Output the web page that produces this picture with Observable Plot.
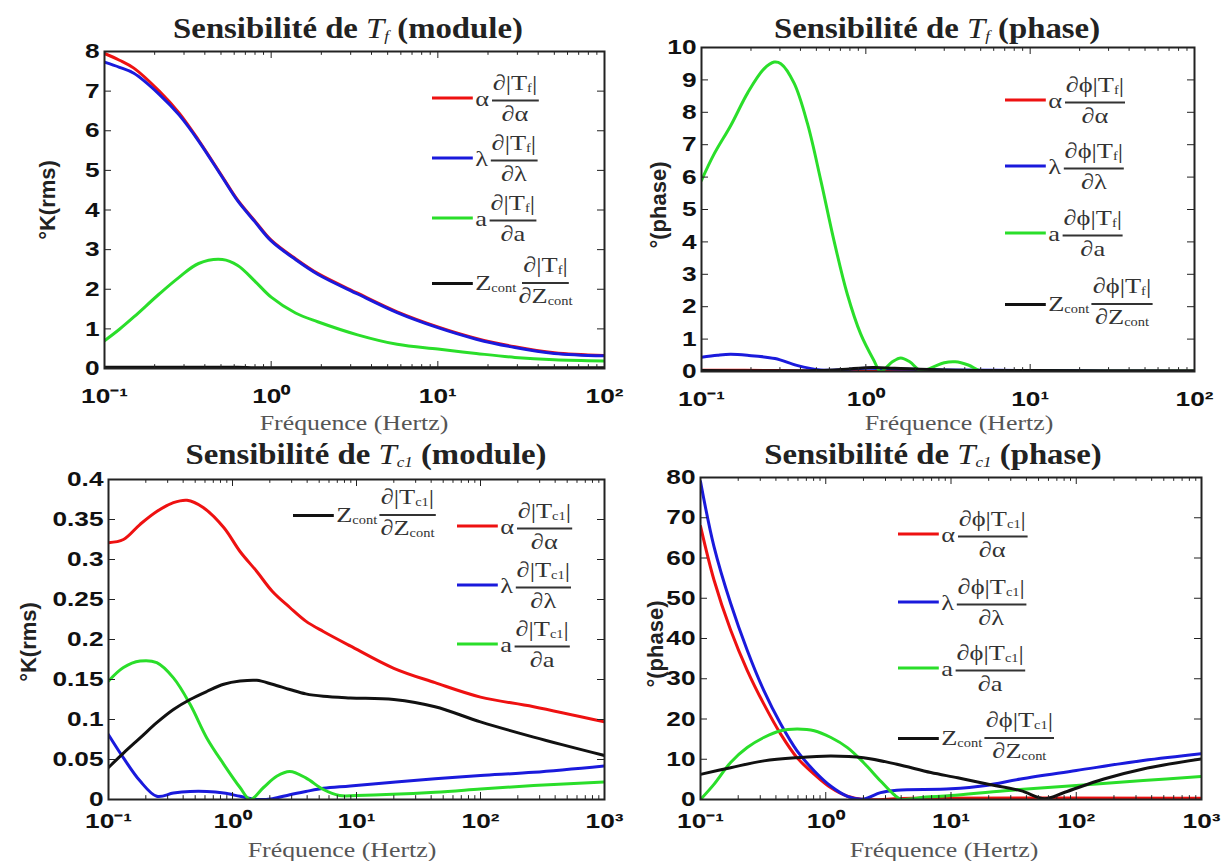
<!DOCTYPE html>
<html><head><meta charset="utf-8">
<script src="https://cdn.jsdelivr.net/npm/d3@7"></script>
<script src="https://cdn.jsdelivr.net/npm/@observablehq/plot@0.6"></script>
<style>
body{margin:0;background:#fff;}
#root{position:relative;width:1229px;height:861px;overflow:hidden;background:#fff;}
.panel{position:absolute;}
.title{position:absolute;transform:translate(-50%,-50%) scaleX(1.13);font:bold 29px "Liberation Serif","Times New Roman",serif;white-space:nowrap;color:#222;}
.title i{font-weight:normal;}
.title sub{font-size:15px;font-style:italic;font-weight:normal;vertical-align:-3px;}
.xlab{position:absolute;transform:translate(-50%,-50%) scaleX(1.23);font:21px "Liberation Serif",serif;color:#555;white-space:nowrap;}
.ylab{position:absolute;transform:translate(-50%,-50%) rotate(-90deg);font:bold 22px "Liberation Sans",Arial,sans-serif;white-space:nowrap;color:#222;}
.leg{position:absolute;display:flex;align-items:center;transform:translateY(-50%) scaleX(1.2);transform-origin:0 50%;font-family:"Liberation Serif",serif;color:#333;white-space:nowrap;}
.leg .ln{width:34px;height:3px;margin-right:2px;}
.leg .pre{font-size:22px;margin-right:2px;}
.frac{display:inline-flex;flex-direction:column;align-items:center;font-size:22px;line-height:24px;}
.frac .num{border-bottom:2px solid #333;padding:0 1px;}
.leg sub{font-size:12px;vertical-align:-2px}
</style></head>
<body><div id="root"></div>
<script>
// ---------- DATA ----------
const seriesColors = {alpha:"#ee1111", lambda:"#1a1adc", a:"#2ade2a", z:"#111111"};

// Panel 1 : Sensibilité de Tf (module)
const p1Freq  = [0.1,0.123,0.15,0.213,0.28,0.367,0.51,0.63,0.8,1,1.4,1.9,3.3,5.7,10,17,29,50,100];
const p1Alpha = [7.95,7.78,7.58,7.0,6.45,5.76,4.84,4.25,3.72,3.24,2.77,2.4,1.9,1.43,1.05,0.76,0.55,0.4,0.33];
const p1Lambda= [7.73,7.6,7.45,6.92,6.4,5.74,4.82,4.23,3.7,3.22,2.75,2.38,1.88,1.41,1.03,0.74,0.53,0.38,0.32];
const p1A     = [0.70,0.99,1.3,1.88,2.3,2.65,2.75,2.6,2.2,1.8,1.4,1.18,0.85,0.61,0.49,0.38,0.28,0.22,0.19];
const p1Z     = [0.03,0.03,0.03,0.03,0.03,0.03,0.03,0.03,0.02,0.02,0.02,0.02,0.02,0.02,0.02,0.02,0.02,0.02,0.02];

// Panel 2 : Sensibilité de Tf (phase)
const p2FreqA = [0.1,0.119,0.151,0.191,0.24,0.277,0.304,0.366,0.442,0.532,0.64,0.77,0.93,1.12,1.23,1.45,1.63,1.85,2.16,2.6,3.0,3.5,4.2,5.0,6,10,20,100];
const p2A     = [5.9,6.7,7.6,8.6,9.34,9.55,9.5,8.9,7.64,5.9,4.04,2.4,1.16,0.34,0.0,0.3,0.42,0.3,0.02,0.15,0.27,0.3,0.2,0.02,0.02,0.02,0.01,0.01];
const p2FreqL = [0.1,0.125,0.15,0.19,0.28,0.38,0.53,0.7,1.0,1.5,3,10,30,100];
const p2Lambda= [0.44,0.5,0.53,0.5,0.4,0.19,0.05,0.05,0.1,0.08,0.05,0.03,0.01,0.0];
const p2FreqR = [0.1,0.3,0.5,1,100];
const p2Alpha = [0.04,0.03,0.01,0.0,0.0];
const p2FreqZ = [0.1,0.5,0.8,1.1,1.5,3,10,100];
const p2Z     = [0.03,0.03,0.08,0.12,0.1,0.05,0.03,0.02];

// Panel 3 : Sensibilité de Tc1 (module)
const p3FreqR = [0.1,0.132,0.18,0.245,0.334,0.43,0.58,0.85,1.15,1.57,2.1,2.9,3.9,5.4,8.9,20,43,100,268,1000];
const p3Alpha = [0.321,0.325,0.344,0.36,0.371,0.374,0.365,0.34,0.31,0.285,0.26,0.24,0.223,0.21,0.192,0.164,0.146,0.128,0.116,0.097];
const p3FreqZ = [0.1,0.132,0.18,0.245,0.334,0.455,0.62,0.85,1.15,1.57,2.1,2.9,3.9,5.4,8.9,20,43,100,268,1000];
const p3Z     = [0.040,0.058,0.077,0.096,0.1125,0.125,0.135,0.144,0.148,0.149,0.144,0.1375,0.132,0.129,0.127,0.125,0.116,0.097,0.078,0.055];
const p3FreqA = [0.1,0.132,0.18,0.245,0.334,0.455,0.62,0.85,1.15,1.39,1.78,2.27,2.9,3.9,5.4,7.3,10,43,100,268,1000];
const p3A     = [0.148,0.165,0.173,0.171,0.152,0.119,0.077,0.044,0.015,0.0,0.015,0.029,0.035,0.027,0.0125,0.005,0.005,0.009,0.013,0.0175,0.022];
const p3FreqL = [0.1,0.132,0.18,0.245,0.334,0.455,0.62,0.85,1.15,1.57,2.1,2.9,3.9,5.4,8.9,43,100,268,1000];
const p3Lambda= [0.081,0.052,0.023,0.004,0.008,0.010,0.010,0.008,0.004,0.0,0.001,0.006,0.010,0.014,0.017,0.026,0.030,0.034,0.042];

// Panel 4 : Sensibilité de Tc1 (phase)
const p4FreqR = [0.1,0.128,0.174,0.236,0.32,0.437,0.59,0.81,1.1,1.49,2.0,5,1000];
const p4Alpha = [67.9,54.6,42.1,32.1,23.75,16.25,10.4,6.25,2.9,0.8,0,0.3,0.3];
const p4FreqL = [0.1,0.128,0.174,0.236,0.32,0.437,0.59,0.81,1.1,1.49,2.0,2.74,3.7,10,19,36,100,342,1000];
const p4Lambda= [79,62.9,48.75,37.1,27.1,18.75,12.1,7.1,3.3,0.8,0.1,1.7,2.3,2.65,3.5,5.1,7.2,9.7,11.4];
const p4FreqA = [0.1,0.128,0.174,0.236,0.32,0.437,0.59,0.81,1.1,1.49,2.0,2.74,3.5,4.0,6.3,10,27,100,342,1000];
const p4A     = [0.0,3.75,9.2,12.9,15.4,17.1,17.5,17.1,15.4,12.9,9.2,4.6,1.25,0.1,0.6,1.0,2.2,3.5,4.7,5.7];
const p4FreqZ = [0.1,0.174,0.32,0.59,1.1,2.0,3.7,6.9,11.3,19,36,56,81,166,342,1000];
const p4Z     = [6.25,7.9,9.6,10.4,10.8,10.4,8.75,6.7,5.4,3.9,2.2,0.2,1.8,5.1,7.6,10.1];

// Tick values
const p1YTicks = [0,1,2,3,4,5,6,7,8];
const p2YTicks = [0,1,2,3,4,5,6,7,8,9,10];
const p3YTicks = [0,0.05,0.1,0.15,0.2,0.25,0.3,0.35,0.4];
const p4YTicks = [0,10,20,30,40,50,60,70,80];
const xTicksA = [0.1,1,10,100];
const xTicksB = [0.1,1,10,100,1000];

// Texts
const titles = [
  ["Sensibilité de ", "T", "f", " (module)"],
  ["Sensibilité de ", "T", "f", " (phase)"],
  ["Sensibilité de ", "T", "c1", " (module)"],
  ["Sensibilité de ", "T", "c1", " (phase)"]
];
const yLabels = ["°K(rms)","°(phase)","°K(rms)","°(phase)"];
const xLabel = "Fréquence (Hertz)";

// ---------- RENDER ----------
const root = document.getElementById("root");
const sup = {"-":"⁻","0":"⁰","1":"¹","2":"²","3":"³"};
const fmtPow = d => "10" + String(Math.round(Math.log10(d))).split("").map(c=>sup[c]).join("");
const fmtY = d => String(+d.toFixed(2));

function rows(f, v){ return f.map((x,i)=>({f:x, v:v[i]})); }

function makePanel(cfg){
  const {left, top, width, height, ml, mr, mt, mb, xdom, ydom, xticks, yticks, xpad, series} = cfg;
  const pw = width-ml-mr, ph = height-mt-mb;
  const minor = [];
  for (const d of xticks.slice(0,-1)) for (let k=2;k<10;k++) minor.push(d*k);
  const dy = (ydom[1]-ydom[0]) * 7/ph, dyMin = dy*0.55;
  const lr = Math.log10(xdom[1]/xdom[0]);
  const kx = 10 ** (lr*7/pw);
  const plot = Plot.plot({
    width, height, marginLeft: ml, marginRight: mr, marginTop: mt, marginBottom: mb,
    x: {type:"log", domain: xdom},
    y: {domain: ydom},
    style: {fontFamily:'"Liberation Sans",Arial,sans-serif', fontSize:"21px", fontWeight:"bold", color:"#111", background:"transparent", overflow:"visible"},
    marks: [
      ...series.map(s => Plot.line(rows(s.f, s.v), {x:"f", y:"v", stroke:s.color, strokeWidth:3, curve:"catmull-rom", clip:true})),
      Plot.ruleX(xticks, {x:d=>d, y1:ydom[0], y2:ydom[0]+dy, stroke:"#222"}),
      Plot.ruleX(xticks, {x:d=>d, y1:ydom[1], y2:ydom[1]-dy, stroke:"#222"}),
      Plot.ruleX(minor, {x:d=>d, y1:ydom[0], y2:ydom[0]+dyMin, stroke:"#222"}),
      Plot.ruleX(minor, {x:d=>d, y1:ydom[1], y2:ydom[1]-dyMin, stroke:"#222"}),
      Plot.ruleY(yticks, {y:d=>d, x1:xdom[0], x2:xdom[0]*kx, stroke:"#222"}),
      Plot.ruleY(yticks, {y:d=>d, x1:xdom[1], x2:xdom[1]/kx, stroke:"#222"}),
      Plot.frame({stroke:"#222", strokeWidth:2}),
      Plot.axisX(xticks, {tickSize:0, tickPadding:xpad, tickFormat:fmtPow, label:null}),
      Plot.axisY(yticks, {tickSize:0, tickPadding:5, tickFormat:fmtY, label:null})
    ]
  });
  // widen tick labels horizontally like the reference glyphs
  plot.querySelectorAll('[aria-label="x-axis tick label"] text, [aria-label="y-axis tick label"] text').forEach(t => {
    const x = parseFloat(t.getAttribute("x")) || 0;
    const prev = t.getAttribute("transform") || "";
    t.setAttribute("transform", `${prev} translate(${x},0) scale(1.25,1) translate(${-x},0)`);
  });
  const div = document.createElement("div");
  div.className = "panel";
  div.style.left = left+"px"; div.style.top = top+"px";
  div.appendChild(plot);
  root.appendChild(div);
}

function addText(cls, html, x, y){
  const d = document.createElement("div");
  d.className = cls; d.innerHTML = html;
  d.style.left = x+"px"; d.style.top = y+"px";
  root.appendChild(d);
}
function titleHtml(t){ return `${t[0]}<i>${t[1]}</i><sub>${t[2]}</sub>${t[3]}`; }

const pre = {alpha:"α", lambda:"λ", a:"a", z:"Z<sub>cont</sub>"};
const den = {alpha:"∂α", lambda:"∂λ", a:"∂a", z:"∂Z<sub>cont</sub>"};
function legendEntry(key, num, x, y){
  const html = `<span class="ln" style="background:${seriesColors[key]}"></span><span class="pre">${pre[key]}</span>`+
    `<span class="frac"><span class="num">${num}</span><span class="den">${den[key]}</span></span>`;
  addText("leg", html, x, y);
}

// Panel 1
makePanel({left:0, top:0, width:614, height:430, ml:104, mr:10, mt:51, mb:62, xpad:20,
  xdom:[0.1,100], ydom:[0,8], xticks:xTicksA, yticks:p1YTicks,
  series:[
    {f:p1Freq, v:p1Alpha, color:seriesColors.alpha},
    {f:p1Freq, v:p1Lambda, color:seriesColors.lambda},
    {f:p1Freq, v:p1A, color:seriesColors.a},
    {f:p1Freq, v:p1Z, color:seriesColors.z}]});
// Panel 2
makePanel({left:610, top:0, width:619, height:430, ml:91, mr:35, mt:47, mb:59, xpad:20,
  xdom:[0.1,100], ydom:[0,10], xticks:xTicksA, yticks:p2YTicks,
  series:[
    {f:p2FreqR, v:p2Alpha, color:seriesColors.alpha},
    {f:p2FreqL, v:p2Lambda, color:seriesColors.lambda},
    {f:p2FreqA, v:p2A, color:seriesColors.a},
    {f:p2FreqZ, v:p2Z, color:seriesColors.z}]});
// Panel 3
makePanel({left:0, top:430, width:614, height:431, ml:108, mr:10, mt:49, mb:62, xpad:14,
  xdom:[0.1,1000], ydom:[0,0.4], xticks:xTicksB, yticks:p3YTicks,
  series:[
    {f:p3FreqR, v:p3Alpha, color:seriesColors.alpha},
    {f:p3FreqL, v:p3Lambda, color:seriesColors.lambda},
    {f:p3FreqA, v:p3A, color:seriesColors.a},
    {f:p3FreqZ, v:p3Z, color:seriesColors.z}]});
// Panel 4
makePanel({left:610, top:430, width:619, height:431, ml:90, mr:28, mt:47, mb:62, xpad:14,
  xdom:[0.1,1000], ydom:[0,80], xticks:xTicksB, yticks:p4YTicks,
  series:[
    {f:p4FreqR, v:p4Alpha, color:seriesColors.alpha},
    {f:p4FreqL, v:p4Lambda, color:seriesColors.lambda},
    {f:p4FreqA, v:p4A, color:seriesColors.a},
    {f:p4FreqZ, v:p4Z, color:seriesColors.z}]});

// Titles
addText("title", titleHtml(titles[0]), 348, 28);
addText("title", titleHtml(titles[1]), 937, 28);
addText("title", titleHtml(titles[2]), 366, 454);
addText("title", titleHtml(titles[3]), 933, 454);
// Axis labels
addText("xlab", xLabel, 354, 423);
addText("xlab", xLabel, 959, 423);
addText("xlab", xLabel, 342, 850);
addText("xlab", xLabel, 944, 850);
addText("ylab", yLabels[0], 48, 200);
addText("ylab", yLabels[1], 659, 205);
addText("ylab", yLabels[2], 29, 642);
addText("ylab", yLabels[3], 656, 644);

// Legends
const nf = "∂|T<sub>f</sub>|", pf = "∂ϕ|T<sub>f</sub>|", nc = "∂|T<sub>c1</sub>|", pc = "∂ϕ|T<sub>c1</sub>|";
legendEntry("alpha", nf, 432, 98); legendEntry("lambda", nf, 432, 158);
legendEntry("a", nf, 432, 218); legendEntry("z", nf, 432, 283);
legendEntry("alpha", pf, 1005, 100); legendEntry("lambda", pf, 1005, 166);
legendEntry("a", pf, 1005, 233); legendEntry("z", pf, 1005, 304);
legendEntry("z", nc, 293, 515); legendEntry("alpha", nc, 457, 526);
legendEntry("lambda", nc, 457, 585); legendEntry("a", nc, 457, 644);
legendEntry("alpha", pc, 898, 534); legendEntry("lambda", pc, 898, 602);
legendEntry("a", pc, 898, 668); legendEntry("z", pc, 898, 738);
</script></body></html>
